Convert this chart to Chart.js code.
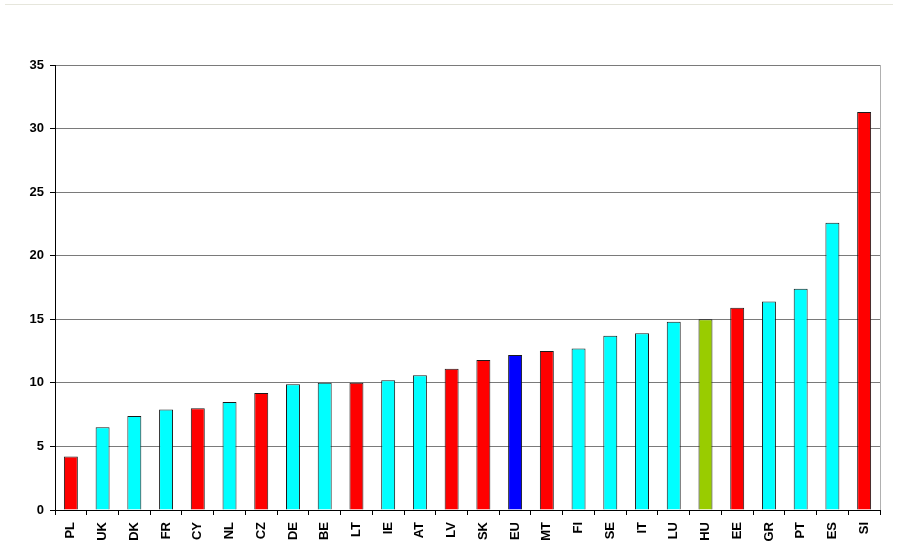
<!DOCTYPE html>
<html>
<head>
<meta charset="utf-8">
<script src="https://cdn.jsdelivr.net/npm/chart.js@4.4.0/dist/chart.umd.min.js"></script>
<style>
    html, body { margin: 0; padding: 0; background: #fff; }
    #wrap { position: relative; width: 904px; height: 554px; }
    #topline { position: absolute; left: 5px; top: 4px; width: 888px; height: 0; border-top: 1px solid #e6e6dc; }
</style>
</head>
<body>
<div id="wrap">
    <div id="topline"></div>
    <canvas id="barChart" width="904" height="554"></canvas>
</div>
<script>
// Chart data
const countries = ['PL', 'UK', 'DK', 'FR', 'CY', 'NL', 'CZ', 'DE', 'BE', 'LT', 'IE', 'AT', 'LV',
    'SK', 'EU', 'MT', 'FI', 'SE', 'IT', 'LU', 'HU', 'EE', 'GR', 'PT', 'ES', 'SI'];
const values = [4.2, 6.5, 7.4, 7.9, 8.0, 8.5, 9.2, 9.9, 10.0, 10.0, 10.2, 10.6, 11.1,
    11.8, 12.2, 12.5, 12.7, 13.7, 13.9, 14.8, 15.0, 15.9, 16.4, 17.4, 22.6, 31.3];
// group of each country: new member states, old member states, EU average, Hungary
const groups = ['new', 'old', 'old', 'old', 'new', 'old', 'new', 'old', 'old', 'new', 'old', 'old', 'new',
    'new', 'eu', 'new', 'old', 'old', 'old', 'old', 'hu', 'new', 'old', 'old', 'old', 'new'];
const yTicks = [0, 5, 10, 15, 20, 25, 30, 35];

const groupColors = {
    new: '#ff0000',
    old: '#00ffff',
    eu: '#0000ff',
    hu: '#99cc00'
};

const ctx = document.getElementById('barChart').getContext('2d');

new Chart(ctx, {
    type: 'bar',
    data: {
        labels: countries,
        datasets: [{
            data: values,
            backgroundColor: groups.map(g => groupColors[g]),
            borderColor: '#1a1a1a',
            borderWidth: 1,
            borderSkipped: 'bottom',
            barPercentage: 0.44,
            categoryPercentage: 1.0
        }]
    },
    options: {
        responsive: false,
        animation: false,
        layout: {
            padding: { top: 65, right: 24, left: 0, bottom: 0 }
        },
        plugins: {
            legend: { display: false },
            tooltip: { enabled: false }
        },
        scales: {
            x: {
                offset: true,
                grid: {
                    offset: true,
                    drawOnChartArea: false,
                    drawTicks: true,
                    tickLength: 5,
                    color: '#000'
                },
                border: { color: '#000', width: 1 },
                ticks: {
                    minRotation: 90,
                    maxRotation: 90,
                    autoSkip: false,
                    padding: 7,
                    color: '#000',
                    font: { family: 'Liberation Sans, Arial, sans-serif', size: 13, weight: 'bold' }
                },
                afterFit: function(scale) {
                    scale.height = 44;
                }
            },
            y: {
                min: 0,
                max: 35,
                afterBuildTicks: function(scale) {
                    scale.ticks = yTicks.map(v => ({ value: v }));
                },
                grid: {
                    color: '#7a7a7a',
                    lineWidth: 1,
                    tickLength: 5,
                    tickColor: '#000'
                },
                border: { color: '#000', width: 1 },
                ticks: {
                    padding: 6,
                    color: '#000',
                    font: { family: 'Liberation Sans, Arial, sans-serif', size: 13, weight: 'bold' }
                },
                afterFit: function(scale) {
                    scale.width = 55;
                }
            }
        }
    },
    plugins: [{
        id: 'rightBorder',
        afterDraw: function(chart) {
            const a = chart.chartArea;
            const c = chart.ctx;
            c.save();
            c.strokeStyle = '#b0b0b0';
            c.lineWidth = 1;
            c.beginPath();
            c.moveTo(Math.round(a.right) + 0.5, a.top);
            c.lineTo(Math.round(a.right) + 0.5, a.bottom);
            c.stroke();
            c.restore();
        }
    }]
});
</script>
</body>
</html>
